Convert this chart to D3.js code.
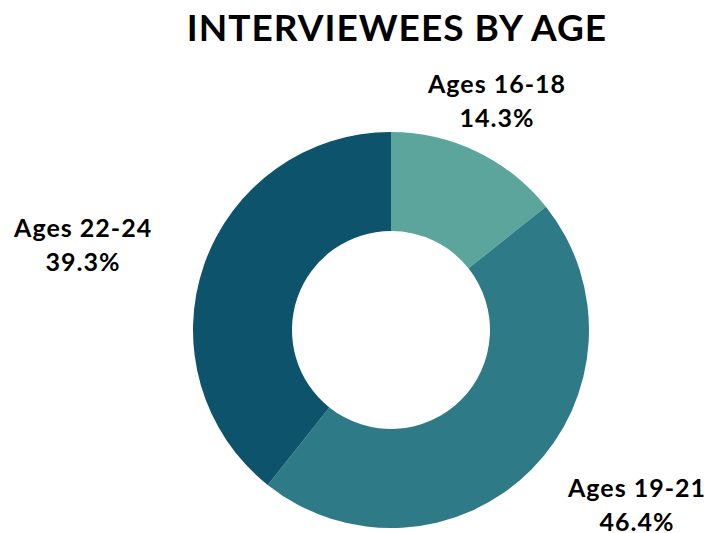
<!DOCTYPE html>
<html>
<head>
<meta charset="utf-8">
<script src="https://cdn.jsdelivr.net/npm/d3@7"></script>
<style>
body { margin:0; background:#fff; }
text { font-family: Lato, "Open Sans", sans-serif; fill:#000; }
.title { font-size:37px; font-weight:700; letter-spacing:1px; }
.lbl { font-size:25px; font-weight:700; letter-spacing:1px; }
</style>
</head>
<body>
<script>
var categories=["Ages 16-18","Ages 19-21","Ages 22-24"];
var percents=[14.3,46.4,39.3];
var colors=["#5ba59c","#2e7b87","#0e536c"];
var titleText="INTERVIEWEES BY AGE";

var width=723, height=533;
var cx=391, cy=330, outerR=198, innerR=99;
// nudges from the slice's outer edge to the first label line (label box sits outside)
var labelNudge=[[20,-59],[106,27],[-121,-28]];

var svg=d3.select("body").append("svg").attr("width",width).attr("height",height);

svg.append("text").attr("class","title").
	attr("x",397).attr("y",41).
	attr("text-anchor","middle").
	text(titleText);

var pie=d3.pie().sort(null).value(function(d) {return d;});
var arcs=pie(percents);
var arc=d3.arc().innerRadius(innerR).outerRadius(outerR);
var edgeArc=d3.arc().innerRadius(outerR*2).outerRadius(0); // centroid at outerR

var g=svg.append("g").attr("transform","translate("+cx+","+cy+")");

g.selectAll(".slice").data(arcs).enter().
	append("path").classed("slice",true).
	attr("d",arc).
	attr("fill",function(d,i) {return colors[i];});

var lbl=g.selectAll(".lbl").data(arcs).enter().
	append("text").classed("lbl",true).
	attr("text-anchor","middle").
	attr("transform",function(d,i) {
		var c=edgeArc.centroid(d);
		return "translate("+(c[0]+labelNudge[i][0])+","+(c[1]+labelNudge[i][1])+")";
	});

lbl.append("tspan").attr("x",0).attr("y",0).text(function(d,i) {return categories[i];});
lbl.append("tspan").attr("x",0).attr("y",34).text(function(d,i) {return percents[i].toFixed(1)+"%";});
</script>
</body>
</html>
